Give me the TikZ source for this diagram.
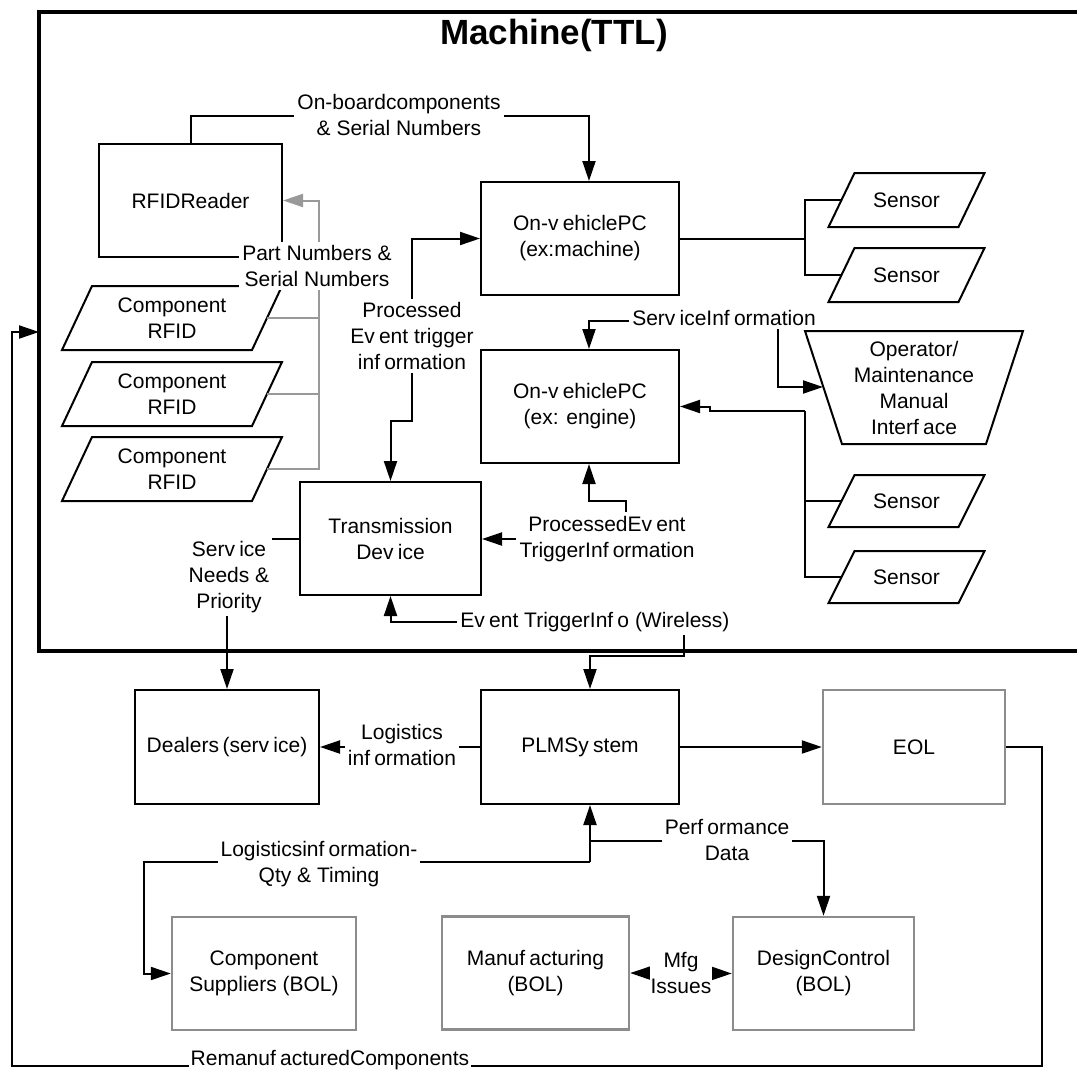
\documentclass[tikz,border=0pt]{standalone}
\usepackage{fontspec}
\setmainfont{Liberation Sans}
\usetikzlibrary{arrows.meta,calc}
\newcommand\gp{\kern.2em}
% slanted input/output box: name, cx, cy, top width, height, slant, text
\newcommand\slantbox[7]{%
  \draw[shapeline] (#2-#4/2+#6/2,#3-#5/2) -- ++(#4,0) -- ++(-#6,#5) -- ++(-#4,0) -- cycle;
  \node[txt] (#1) at (#2,#3) {#7};
  \coordinate (#1-w) at (#2-#4/2,#3);
  \coordinate (#1-e) at (#2+#4/2,#3);}
\begin{document}
\begin{tikzpicture}[x=0.5pt,y=-0.5pt,
  txt/.style={align=center,inner sep=0pt,font=\fontsize{10.5}{13}\selectfont},
  box/.style={draw,line width=1pt,txt},
  gbox/.style={draw=black!45,line width=1.2pt,txt},
  sz/.style 2 args={minimum width=#1*0.5pt,minimum height=#2*0.5pt},
  lbl/.style={txt,fill=white,inner sep=1.5pt},
  shapeline/.style={line width=1pt},
  arr/.style={line width=1pt,-{Triangle[length=10pt,width=6.5pt]}},
  darr/.style={line width=1pt,{Triangle[length=10pt,width=6.5pt]}-{Triangle[length=10pt,width=6.5pt]}},
  wire/.style={line width=1pt},
  gwire/.style={line width=1pt,draw=black!40},
  garr/.style={gwire,-{Triangle[length=10pt,width=6.5pt]}},
  frame/.style={line width=2.4pt}]
\useasboundingbox (0,0) rectangle (1077,1072);

% machine boundary
\draw[frame] (1085,12) -- (39,12) -- (39,651) -- (1085,651);
\node[font=\fontsize{17.5}{21}\selectfont\bfseries] (title) at (554,35) {Machine(TTL)};

% boxes on the machine
\node[box,sz={183}{113}] (rr) at (190.5,200.5) {RFIDReader};
\node[box,sz={198}{113}] (pcm) at (580,238.5) {On-v\gp ehiclePC\\(ex:machine)};
\node[box,sz={198}{113}] (pce) at (580,406.5) {On-v\gp ehiclePC\\(ex: engine)};
\node[box,sz={181}{113}] (trans) at (390.5,538.5) {Transmission\\Dev\gp ice};

\slantbox{cr1}{172}{318}{190}{64}{30}{Component\\RFID}
\slantbox{cr2}{172}{394}{190}{64}{30}{Component\\RFID}
\slantbox{cr3}{172}{469}{190}{64}{30}{Component\\RFID}

\slantbox{s1}{906.5}{200}{130}{54}{26}{Sensor}
\slantbox{s2}{906.5}{275}{130}{54}{26}{Sensor}
\slantbox{s3}{906.5}{501}{130}{52}{26}{Sensor}
\slantbox{s4}{906.5}{577}{130}{52}{26}{Sensor}

% operator manual interface (trapezoid)
\draw[shapeline] (805,331) -- (1023,331) -- (986,444) -- (842,444) -- cycle;
\node[txt] (op) at (914,388) {Operator/\\Maintenance\\Manual\\Interf\gp ace};
\coordinate (op-w) at (823,387);

% boxes outside the machine
\node[box,sz={184}{114}] (dealers) at (227,747) {Dealers\,(serv\gp ice)};
\node[box,sz={198}{114}] (plm) at (580,747) {PLMSy\gp stem};
\node[gbox,sz={182}{114}] (eol) at (914,747) {EOL};
\node[gbox,sz={184}{113}] (sup) at (264,973.5) {Component\\Suppliers (BOL)};
\node[gbox,sz={187}{113}] (mfg) at (535.5,973) {Manuf\gp acturing\\(BOL)};
\node[gbox,sz={181}{113}] (dc) at (823.5,973.5) {DesignControl\\(BOL)};

% bend points
\coordinate (k1) at (589,116);
\coordinate (k2) at (412,421);
\coordinate (k3) at (778,321);
\coordinate (j1) at (805,238.5);
\coordinate (j2) at (805,411);
\coordinate (k4) at (626,512);
\coordinate (k5) at (684,622);
\coordinate (k6) at (590,862);
\coordinate (k7) at (590,841);
\coordinate (gx) at (319,469);
\coordinate (rc) at (1042,747);
\coordinate (rb) at (12,1066);
\coordinate (fr) at (39,332);

% connectors inside the machine
\draw[arr] (rr.north) |- (k1) -- (k1 |- pcm.north);
\draw[gwire] (cr1-e) -- (cr1-e -| gx);
\draw[gwire] (cr2-e) -- (cr2-e -| gx);
\draw[garr] (cr3-e) -- (gx) |- (rr.east);
\draw[wire] (pcm.east) -- (j1);
\draw[wire] (s1-w) -| (j1) |- (s2-w);
\draw[darr] (pcm.west) -| (k2) -| (trans.north);
\draw[arr] (k3) -- (k3 -| k1) -- ([xshift=4.5pt]pce.north);
\draw[arr] (k3) |- (op-w);
\draw[wire] (s3-w) -| (j2);
\draw[wire] (s4-w) -| (j2);
\draw[arr] (j2) -- (710,411) -- (710,406.5) -- (pce.east);
\draw[arr] (k4) -- (626,501) -- (589,501) -- ([xshift=4.5pt]pce.south);
\draw[arr] (trans.west) -| (dealers.north);
\draw[arr] (k5) -| (trans.south);
\draw[arr] (k5) -- (684,656) -- (590,656) -- ([xshift=5pt]plm.north);

% connectors outside the machine
\draw[arr] (plm.west) -- (dealers.east);
\draw[arr] (plm.east) -- (eol.west);
\draw[arr] (k6) -- ([xshift=5pt]plm.south);
\draw[arr] (k6) -- (144,862) |- (sup.west);
\draw[arr] (k7) -| (dc.north);
\draw[darr] (mfg.east) -- (dc.west);
\draw[arr] (eol.east) -- (rc) |- (rb) |- (fr);

% connector labels
\node[lbl] (l1) at (399,115) {On-boardcomponents\\\& Serial Numbers};
\node[lbl] (l2) at (317,266) {Part Numbers \&\\Serial Numbers};
\node[lbl] (l3) at (412,336) {Processed\\Ev\gp ent trigger\\inf\gp ormation};
\node[lbl] (l4) at (724,318) {Serv\gp iceInf\gp ormation};
\node[lbl] (l5) at (229,577) {Serv\gp ice\\Needs \&\\Priority};
\node[lbl] (l6) at (607,539) {ProcessedEv\gp ent\\TriggerInf\gp ormation};
\draw[arr] (l6.west) -- (l6.west -| trans.east);
\node[lbl] (l7) at (595,622) {Ev\gp ent TriggerInf\gp o (Wireless)};
\node[lbl] (l8) at (402,745) {Logistics\\inf\gp ormation};
\node[lbl] (l9) at (319,864) {Logisticsinf\gp ormation-\\Qty \& Timing};
\node[lbl] (l10) at (727,840) {Perf\gp ormance\\Data};
\node[lbl,inner sep=0.5pt] (l11) at (681,973) {Mfg\\Issues};
\node[lbl,inner sep=1pt] (l12) at (330,1060) {Remanuf\gp acturedComponents};
\end{tikzpicture}
\end{document}
